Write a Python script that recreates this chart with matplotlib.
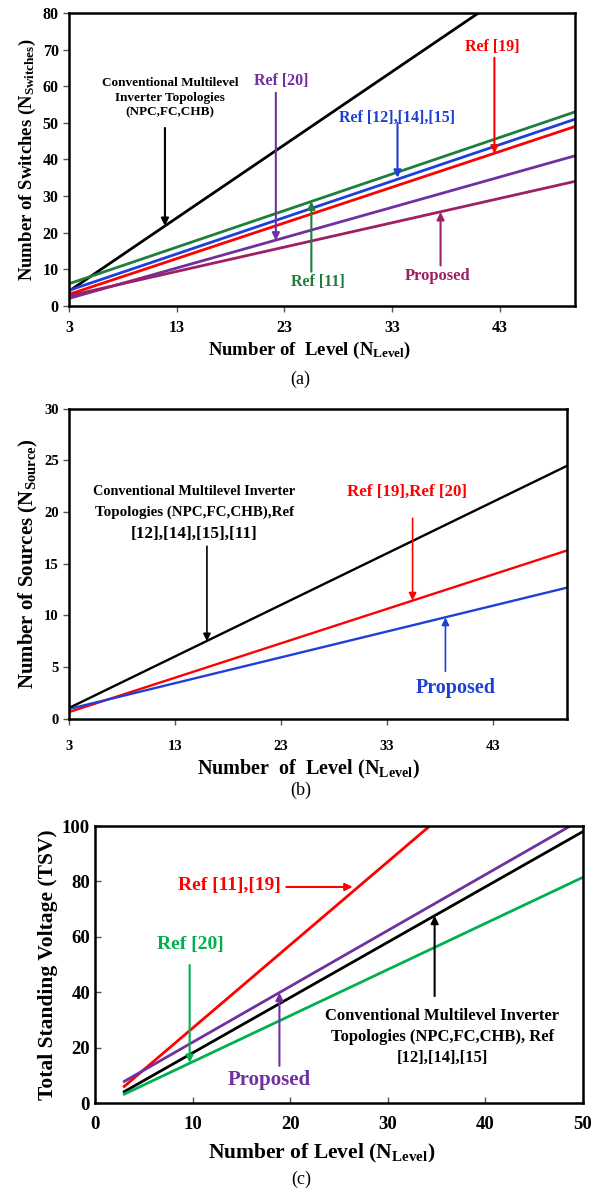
import numpy as np
import matplotlib
matplotlib.use("Agg")
import matplotlib.pyplot as plt

plt.rcParams['font.family'] = ['Liberation Serif', 'DejaVu Serif']
plt.rcParams['font.weight'] = 'bold'
plt.rcParams['mathtext.fontset'] = 'custom'
plt.rcParams['mathtext.rm'] = 'Liberation Serif:bold'
plt.rcParams['mathtext.it'] = 'Liberation Serif:bold'
plt.rcParams['mathtext.bf'] = 'Liberation Serif:bold'

# ---- data ----
# (a) number of switches
lvl_a = [3, 50]
conv_a_lvl = [3, 41]
conv_a = [4, 80]
ref11_a = [6, 53]
ref12_a = [4.2, 51]
ref19_a = [3.1, 49]
ref20_a = [2, 41]
prop_a = [2.7, 34]

# (b) number of sources
lvl_b = [3, 50]
conv_b = [1.05, 24.5]
ref19_b = [0.65, 16.3]
prop_b = [0.95, 12.7]

# (c) total standing voltage
ref11_c_lvl = [3, 34.3]
ref11_c = [6, 100]
prop_c_lvl = [3, 48.7]
prop_c = [7.8, 100]
conv_c_lvl = [3, 50]
conv_c = [4.1, 98]
ref20_c_lvl = [3, 50]
ref20_c = [3.2, 81.5]

black = '#000000'
green = '#1e7e3e'
blue = '#1f3fd6'
red = '#ff0000'
purple = '#7030a0'
maroon = '#9e1f63'
green_c = '#00b050'
lw = 2.0

fig = plt.figure(figsize=(6.01, 11.94), dpi=100)


def arrow(ax, x, y0, x1, y1, color, lw=1.5):
    ax.annotate('', xy=(x1, y1), xytext=(x, y0),
                arrowprops=dict(arrowstyle='-|>', color=color, lw=lw,
                                mutation_scale=11, shrinkA=0, shrinkB=0))


def style(ax, fs):
    for s in ax.spines.values():
        s.set_linewidth(1.8)
        s.set_color('black')
    ax.tick_params(labelsize=fs, width=1, length=4, color='#555555')
    for t in ax.get_xticklabels() + ax.get_yticklabels():
        t.set_fontweight('bold')


# ---------- (a) ----------
ax1 = fig.add_axes([0.115, 0.744, 0.842, 0.245])
ax1.plot(conv_a_lvl, conv_a, color=black, lw=lw)
ax1.plot(lvl_a, ref11_a, color=green, lw=lw)
ax1.plot(lvl_a, ref12_a, color=blue, lw=lw)
ax1.plot(lvl_a, ref19_a, color=red, lw=lw)
ax1.plot(lvl_a, ref20_a, color=purple, lw=lw)
ax1.plot(lvl_a, prop_a, color=maroon, lw=lw)
ax1.set_xlim(3, 50)
ax1.set_ylim(0, 80)
ax1.set_xticks([3, 13, 23, 33, 43])
ax1.set_yticks(range(0, 81, 10))
style(ax1, 11.5)
ax1.tick_params(axis='x', pad=6)
ax1.set_xlabel(r'Number of  Level ($\mathrm{N}_{\mathrm{Level}}$)', fontsize=13.5,
               fontweight='bold', labelpad=4)
ax1.xaxis.set_label_coords(0.475, -0.118)
ax1.set_ylabel(r'Number of Switches ($\mathrm{N}_{\mathrm{Switches}}$)', fontsize=13.5,
               fontweight='bold', labelpad=3)

ax1.text(12.4, 56.8, 'Conventional Multilevel\nInverter Topologies\n(NPC,FC,CHB)',
         ha='center', va='center', fontsize=9.5, fontweight='bold', color=black,
         linespacing=1.3)
arrow(ax1, 11.9, 48.6, 11.9, 21.8, black)
ax1.text(22.7, 61.5, 'Ref [20]', ha='center', va='center', fontsize=11.5,
         fontweight='bold', color=purple)
arrow(ax1, 22.2, 58.2, 22.2, 17.8, purple)
ax1.text(33.5, 51.4, 'Ref [12],[14],[15]', ha='center', va='center', fontsize=11.5,
         fontweight='bold', color=blue)
arrow(ax1, 33.5, 50.0, 33.5, 35.0, blue)
ax1.text(42.3, 70.8, 'Ref [19]', ha='center', va='center', fontsize=11.5,
         fontweight='bold', color=red)
arrow(ax1, 42.5, 67.8, 42.5, 41.6, red)
ax1.text(26.1, 6.4, 'Ref [11]', ha='center', va='center', fontsize=11.5,
         fontweight='bold', color=green)
arrow(ax1, 25.5, 9.3, 25.5, 28.5, green)
ax1.text(37.2, 8.2, 'Proposed', ha='center', va='center', fontsize=12,
         fontweight='bold', color=maroon)
arrow(ax1, 37.5, 11.0, 37.5, 25.6, maroon)

# ---------- (b) ----------
ax2 = fig.add_axes([0.115, 0.398, 0.829, 0.2596])
ax2.plot(lvl_b, conv_b, color=black, lw=1.7)
ax2.plot(lvl_b, ref19_b, color=red, lw=1.7)
ax2.plot(lvl_b, prop_b, color=blue, lw=1.7)
ax2.set_xlim(3, 50)
ax2.set_ylim(0, 30)
ax2.set_xticks([3, 13, 23, 33, 43])
ax2.set_yticks(range(0, 31, 5))
style(ax2, 10.5)
ax2.tick_params(axis='x', pad=11)
ax2.set_xlabel(r'Number  of  Level ($\mathrm{N}_{\mathrm{Level}}$)', fontsize=14.5,
               fontweight='bold', labelpad=4)
ax2.xaxis.set_label_coords(0.48, -0.125)
ax2.set_ylabel(r'Number of Sources ($\mathrm{N}_{\mathrm{Source}}$)', fontsize=15,
               fontweight='bold', labelpad=3)

ax2.text(14.8, 22.0, 'Conventional Multilevel Inverter', ha='center', va='center',
         fontsize=10.3, fontweight='bold', color=black)
ax2.text(14.8, 20.0, 'Topologies (NPC,FC,CHB),Ref', ha='center', va='center',
         fontsize=10.8, fontweight='bold', color=black)
ax2.text(14.8, 17.9, '[12],[14],[15],[11]', ha='center', va='center',
         fontsize=12.3, fontweight='bold', color=black)
arrow(ax2, 16.0, 16.7, 16.0, 7.5, black, lw=1.2)
ax2.text(34.9, 22.0, 'Ref [19],Ref [20]', ha='center', va='center', fontsize=12.2,
         fontweight='bold', color=red)
arrow(ax2, 35.4, 19.4, 35.4, 11.45, red, lw=1.2)
ax2.text(39.5, 3.0, 'Proposed', ha='center', va='center', fontsize=14.5,
         fontweight='bold', color=blue)
arrow(ax2, 38.5, 4.6, 38.5, 9.8, blue, lw=1.2)

# ---------- (c) ----------
ax3 = fig.add_axes([0.158, 0.0762, 0.812, 0.232])
ax3.plot(ref11_c_lvl, ref11_c, color=red, lw=lw)
ax3.plot(prop_c_lvl, prop_c, color=purple, lw=lw)
ax3.plot(conv_c_lvl, conv_c, color=black, lw=lw)
ax3.plot(ref20_c_lvl, ref20_c, color=green_c, lw=lw)
ax3.set_xlim(0, 50)
ax3.set_ylim(0, 100)
ax3.set_xticks(range(0, 51, 10))
ax3.set_yticks(range(0, 101, 20))
style(ax3, 13.5)
ax3.tick_params(axis='x', direction='in', pad=9)
ax3.tick_params(axis='y', direction='in')
ax3.set_xlabel(r'Number of Level ($\mathrm{N}_{\mathrm{Level}}$)', fontsize=15.5,
               fontweight='bold', labelpad=4)
ax3.xaxis.set_label_coords(0.465, -0.14)
ax3.set_ylabel('Total Standing Voltage (TSV)', fontsize=15.5, fontweight='bold',
               labelpad=3)

ax3.text(13.8, 78.7, 'Ref [11],[19]', ha='center', va='center', fontsize=14,
         fontweight='bold', color=red)
arrow(ax3, 19.6, 78.0, 26.4, 78.0, red)
ax3.text(9.8, 57.4, 'Ref [20]', ha='center', va='center', fontsize=14,
         fontweight='bold', color=green_c)
arrow(ax3, 9.7, 49.8, 9.7, 14.5, green_c)
ax3.text(17.9, 8.3, 'Proposed', ha='center', va='center', fontsize=15,
         fontweight='bold', color=purple)
arrow(ax3, 18.9, 13.4, 18.9, 39.8, purple)
ax3.text(35.6, 23.8, 'Conventional Multilevel Inverter\nTopologies (NPC,FC,CHB), Ref\n[12],[14],[15]',
         ha='center', va='center', fontsize=12, fontweight='bold', color=black,
         linespacing=1.4)
arrow(ax3, 34.8, 38.6, 34.8, 67.6, black)

fig.text(0.5, 0.682, '(a)', ha='center', va='center', fontsize=13, fontweight='normal')
fig.text(0.5, 0.338, '(b)', ha='center', va='center', fontsize=13, fontweight='normal')
fig.text(0.502, 0.012, '(c)', ha='center', va='center', fontsize=13, fontweight='normal')

fig.savefig('out.png', dpi=100)
